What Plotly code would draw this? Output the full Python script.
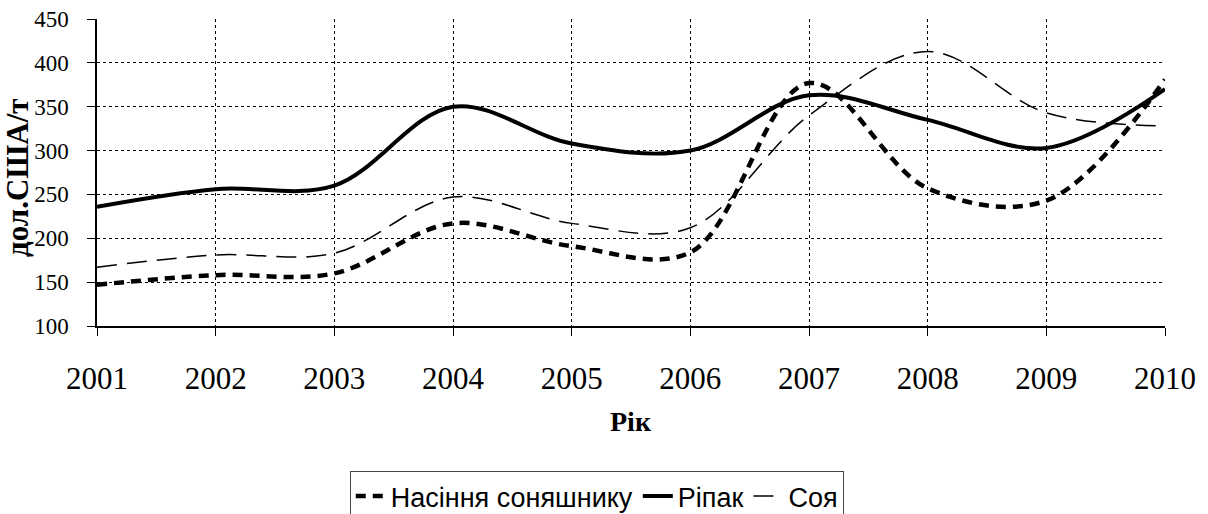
import plotly.graph_objects as go

years = [2001, 2002, 2003, 2004, 2005, 2006, 2007, 2008, 2009, 2010]
sunflower = [147, 158, 160, 217, 191, 184, 377, 257, 243, 381]
rapeseed = [236, 256, 260, 350, 308, 300, 363, 335, 303, 370]
soy = [167, 181, 183, 247, 217, 212, 340, 413, 343, 328]
y_ticks = [100, 150, 200, 250, 300, 350, 400, 450]

names = ["Насіння соняшнику", "Ріпак", "Соя"]
y_title = "дол.США/т"
x_title = "Рік"

fig = go.Figure()
fig.add_trace(go.Scatter(x=years, y=sunflower, name=names[0], mode="lines",
                         line=dict(color="black", width=4.5, dash="10px,7px", shape="spline", smoothing=1)))
fig.add_trace(go.Scatter(x=years, y=rapeseed, name=names[1], mode="lines",
                         line=dict(color="black", width=4, shape="spline", smoothing=1)))
fig.add_trace(go.Scatter(x=years, y=soy, name=names[2], mode="lines",
                         line=dict(color="black", width=1.5, dash="20px,10px", shape="spline", smoothing=1)))

fig.update_layout(
    width=1208, height=514,
    margin=dict(l=97, r=43, t=19, b=188),
    paper_bgcolor="white", plot_bgcolor="white",
    font=dict(family="Liberation Serif", color="black", size=22),
    showlegend=True,
    legend=dict(orientation="h", xref="container", x=0.494, xanchor="center",
                yref="container", y=0.0837, yanchor="top",
                bordercolor="#444", borderwidth=1,
                font=dict(family="Liberation Sans", size=27, color="black"),
                tracegroupgap=0),
    annotations=[
        dict(text="<b>" + y_title + "</b>", xref="paper", yref="paper",
             x=-0.0749, y=0.482, xanchor="center", yanchor="middle",
             textangle=-90, showarrow=False,
             font=dict(family="Liberation Serif", size=31, color="black")),
        dict(text="<b>" + x_title + "</b>", xref="paper", yref="paper",
             x=0.5, y=-0.3127, xanchor="center", yanchor="middle",
             showarrow=False,
             font=dict(family="Liberation Serif", size=28, color="black")),
    ],
)
fig.update_xaxes(range=[2001, 2010], tickmode="array", tickvals=years,
                 ticktext=[str(y) for y in years], automargin=False,
                 showgrid=True, gridcolor="black", griddash="dot", gridwidth=1,
                 showline=True, linecolor="black", linewidth=1.5,
                 ticks="outside", ticklen=8, tickcolor="black",
                 ticklabelstandoff=16, ticklabeloverflow="allow",
                 tickfont=dict(family="Liberation Serif", size=31),
                 zeroline=False)
fig.update_yaxes(range=[100, 450], tickvals=y_ticks, automargin=False,
                 showgrid=True, gridcolor="black", griddash="dot", gridwidth=1,
                 showline=True, linecolor="black", linewidth=1.5,
                 ticks="outside", ticklen=8, tickcolor="black",
                 ticklabelstandoff=14, ticklabeloverflow="allow",
                 tickfont=dict(family="Liberation Serif", size=23),
                 zeroline=False)

fig.write_html("out.html", config={"displayModeBar": False},
               post_script="document.body.style.margin='0';")
